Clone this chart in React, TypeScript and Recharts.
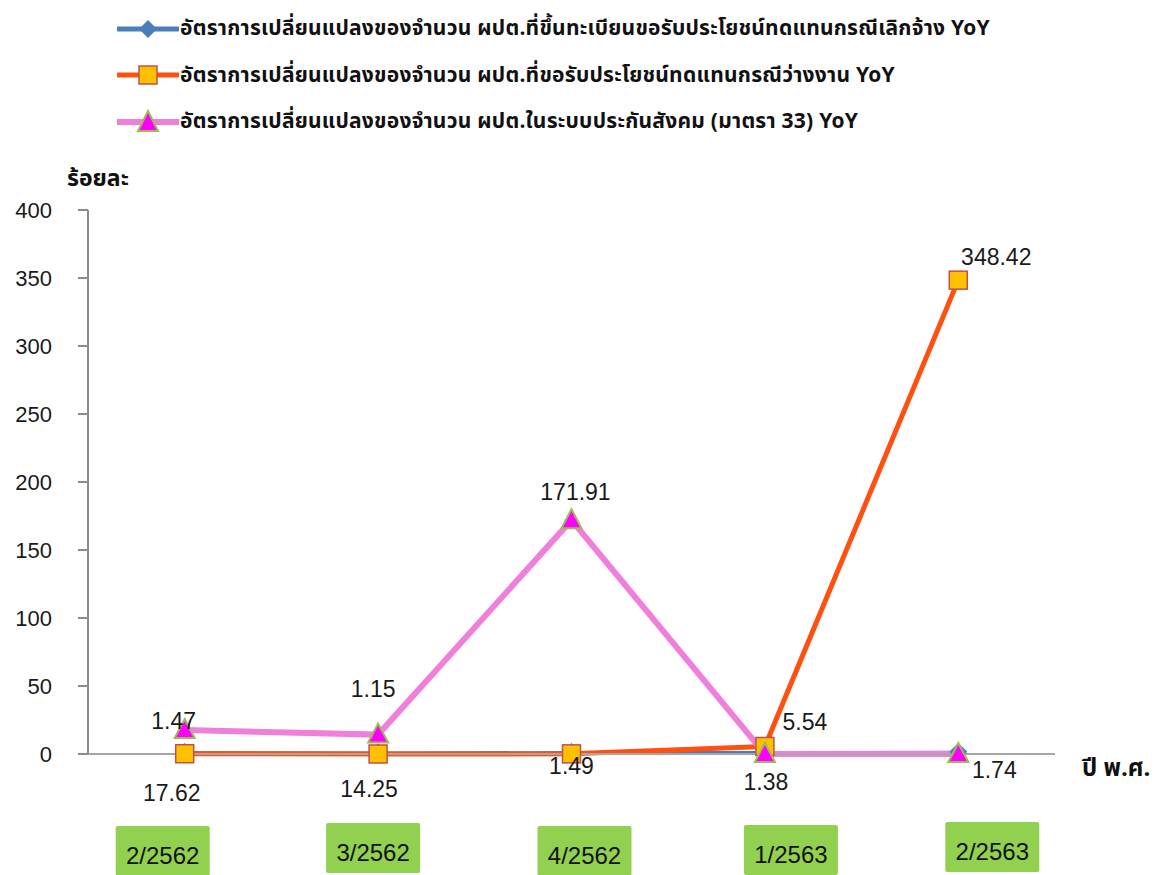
import { LineChart, Line, XAxis, YAxis, LabelList } from "recharts";

const quarters = ["2/2562", "3/2562", "4/2562", "1/2563", "2/2563"];
const layoffClaims = [1.47, 1.15, 1.49, 1.38, 1.74];
const unemploymentClaims = [0.2, 0, 0.1, 5.54, 348.42];
const insuredM33 = [17.62, 14.25, 171.91, 0, 0];
const topLabels = ["1.47", "1.15", "171.91", "5.54", "348.42"];
const bottomLabels = ["17.62", "14.25", "1.49", "1.38", "1.74"];
const yTicks = [0, 50, 100, 150, 200, 250, 300, 350, 400];

const legendNames = [
  "อัตราการเปลี่ยนแปลงของจำนวน ผปต.ที่ขึ้นทะเบียนขอรับประโยชน์ทดแทนกรณีเลิกจ้าง YoY",
  "อัตราการเปลี่ยนแปลงของจำนวน ผปต.ที่ขอรับประโยชน์ทดแทนกรณีว่างงาน YoY",
  "อัตราการเปลี่ยนแปลงของจำนวน ผปต.ในระบบประกันสังคม (มาตรา 33) YoY",
];

const data = quarters.map((q, i) => ({
  q,
  layoff: layoffClaims[i],
  unemp: unemploymentClaims[i],
  m33: insuredM33[i],
}));

// hand placement of the labels / boxes, like the original excel sheet
const topNudge = [
  { dx: -11, dy: -9 },
  { dx: -5, dy: -46 },
  { dx: 4, dy: -28 },
  { dx: 40, dy: -24 },
  { dx: 38, dy: -23 },
];
const bottomNudge = [
  { dx: -13, dy: 41 },
  { dx: -9, dy: 37 },
  { dx: 0, dy: 14 },
  { dx: 1, dy: 30 },
  { dx: 36, dy: 18 },
];
const boxNudge = [
  { dx: -22, dy: 72 },
  { dx: -5, dy: 69 },
  { dx: 13, dy: 72 },
  { dx: 26, dy: 71 },
  { dx: 34, dy: 68 },
];

const NUM_FONT = "'Liberation Sans', Arial, sans-serif";
const THAI_FONT = "Tahoma, 'Noto Sans Thai', Loma, Garuda, 'Noto Sans', sans-serif";

const BLUE = "#4a7ebb";
const ORANGE = "#ff5010";
const PINK = "#f07fdc";

const makeLabel = (texts: string[], nudge: { dx: number; dy: number }[], show: number[]) => (props: any) => {
  const { x, y, index } = props;
  if (!show.includes(index)) return null;
  return (
    <text
      x={x + nudge[index].dx}
      y={y + nudge[index].dy}
      textAnchor="middle"
      dominantBaseline="central"
      fontSize={23}
      fontFamily={NUM_FONT}
      fill="#1a1a1a"
    >
      {texts[index]}
    </text>
  );
};

const QuarterTick = (props: any) => {
  const { x, y, payload, index } = props;
  const n = boxNudge[index];
  const cx = x + n.dx;
  const top = y + n.dy;
  return (
    <g>
      <rect x={cx - 47} y={top} width={94} height={50} fill="#92d050" rx={2} />
      <text x={cx} y={top + 29} textAnchor="middle" dominantBaseline="central" fontSize={24} fontFamily={NUM_FONT} fill="#111">
        {payload.value}
      </text>
    </g>
  );
};

const Diamond = (props: any) => {
  const { cx, cy } = props;
  if (cx == null || cy == null) return null;
  return <path d={`M${cx},${cy - 9} L${cx + 9},${cy} L${cx},${cy + 9} L${cx - 9},${cy} Z`} fill={BLUE} />;
};

const Square = (props: any) => {
  const { cx, cy } = props;
  if (cx == null || cy == null) return null;
  return <rect x={cx - 9} y={cy - 9} width={18} height={18} fill="#ffc000" stroke="#c0504d" strokeWidth={1.5} />;
};

const Triangle = (props: any) => {
  const { cx, cy } = props;
  if (cx == null || cy == null) return null;
  return <path d={`M${cx},${cy - 11} L${cx + 10},${cy + 8} L${cx - 10},${cy + 8} Z`} fill="#ff00ff" stroke="#9bbb59" strokeWidth={2} />;
};

const LegendIcon = ({ idx }: { idx: number }) => {
  const colors = [BLUE, ORANGE, PINK];
  return (
    <svg width={62} height={26} style={{ display: "block" }}>
      <line x1={1} y1={13} x2={61} y2={13} stroke={colors[idx]} strokeWidth={idx === 2 ? 6 : 5} strokeLinecap="round" />
      {idx === 0 && <path d="M31,4 L40,13 L31,22 L22,13 Z" fill={BLUE} />}
      {idx === 1 && <rect x={22} y={4} width={18} height={18} fill="#ffc000" stroke="#c0504d" strokeWidth={1.5} />}
      {idx === 2 && <path d="M31,2 L41,22 L21,22 Z" fill="#ff00ff" stroke="#9bbb59" strokeWidth={2} />}
    </svg>
  );
};

export default function App() {
  return (
    <div style={{ position: "relative", width: 1157, height: 867, background: "#fff" }}>
      {legendNames.map((name, i) => (
        <div
          key={name}
          style={{
            position: "absolute",
            left: 109,
            top: 5 + i * 46.5,
            display: "flex",
            alignItems: "center",
            gap: 1,
            fontFamily: THAI_FONT,
            fontWeight: "bold",
            fontSize: 21,
            letterSpacing: 0.25,
            color: "#111",
            whiteSpace: "nowrap",
          }}
        >
          <LegendIcon idx={i} />
          <span>{name}</span>
        </div>
      ))}
      <div style={{ position: "absolute", left: 59, top: 154, fontFamily: THAI_FONT, fontWeight: "bold", fontSize: 23, color: "#111" }}>
        ร้อยละ
      </div>
      <div style={{ position: "absolute", left: 1074, top: 743, fontFamily: THAI_FONT, fontWeight: "bold", fontSize: 24, color: "#111", whiteSpace: "nowrap" }}>
        ปี พ.ศ.
      </div>
      <LineChart width={1157} height={867} data={data} margin={{ top: 202, right: 110, bottom: 0, left: 0 }}>
        <XAxis
          dataKey="q"
          scale="band"
          height={121}
          axisLine={{ stroke: "#a6a6a6", strokeWidth: 2 }}
          tickLine={false}
          tickSize={0}
          tickMargin={0}
          tick={<QuarterTick />}
          interval={0}
        />
        <YAxis
          width={80}
          domain={[0, 400]}
          ticks={yTicks}
          axisLine={{ stroke: "#8c8c8c", strokeWidth: 2 }}
          tickLine={{ stroke: "#8c8c8c", strokeWidth: 2 }}
          tickSize={10}
          tickMargin={26}
          tick={{ fontSize: 22, fontFamily: NUM_FONT, fill: "#1a1a1a" }}
        />
        <Line
          dataKey="layoff"
          stroke={BLUE}
          strokeWidth={2}
          dot={<Diamond />}
          isAnimationActive={false}
        >
          <LabelList content={makeLabel(bottomLabels, bottomNudge, [0, 1, 2, 3, 4])} />
        </Line>
        <Line
          dataKey="unemp"
          stroke={ORANGE}
          strokeWidth={5}
          dot={<Square />}
          isAnimationActive={false}
        >
          <LabelList content={makeLabel(topLabels, topNudge, [3, 4])} />
        </Line>
        <Line
          dataKey="m33"
          stroke={PINK}
          strokeWidth={6}
          dot={<Triangle />}
          isAnimationActive={false}
        >
          <LabelList content={makeLabel(topLabels, topNudge, [0, 1, 2])} />
        </Line>
      </LineChart>
    </div>
  );
}
